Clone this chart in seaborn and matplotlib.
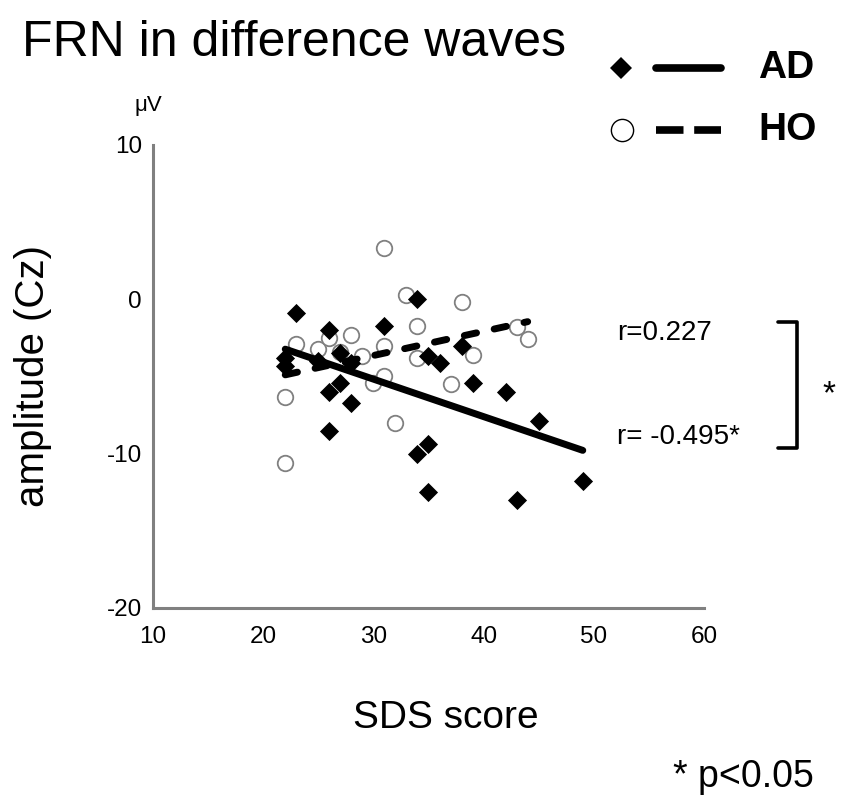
import matplotlib
matplotlib.use('Agg')
import matplotlib.pyplot as plt
from matplotlib.lines import Line2D
import seaborn as sns

# AD group: SDS score vs FRN amplitude (filled diamonds)
ad_sds = [22, 22, 23, 25, 26, 26, 26, 27, 27, 28, 28, 31, 34, 34, 35, 35, 35,
          36, 38, 39, 42, 43, 45, 49]
ad_amp = [-3.8, -4.3, -0.9, -4.0, -2.0, -6.0, -8.5, -3.5, -5.4, -4.1, -6.7,
          -1.7, 0.0, -10.0, -9.4, -12.5, -3.7, -4.1, -3.0, -5.4, -6.0, -13.0,
          -7.9, -11.8]

# HO group (open circles)
ho_sds = [22, 22, 23, 25, 26, 27, 28, 29, 30, 31, 31, 31, 32, 33, 34, 34, 37,
          38, 39, 43, 44]
ho_amp = [-6.3, -10.6, -2.9, -3.2, -2.5, -3.4, -2.3, -3.7, -5.4, 3.35, -3.0,
          -5.0, -8.0, 0.26, -1.7, -3.8, -5.5, -0.2, -3.6, -1.8, -2.6]

x_ticks = [10, 20, 30, 40, 50, 60]
y_ticks = [-20, -10, 0, 10]
group_names = ['AD', 'HO']
r_labels = ['r=0.227', 'r= -0.495*']

GRAY = '#808080'
DASH = (0, (1.8, 2.6))


def fx(px):
    return px / 850


def fy(py):
    return 1 - py / 810


def main():
    sns.set_style('white')
    plt.rcParams['font.family'] = ['Liberation Sans', 'DejaVu Sans']
    plt.rcParams['axes.unicode_minus'] = False
    plt.rcParams['text.color'] = 'black'
    plt.rcParams['axes.labelcolor'] = 'black'

    fig = plt.figure(figsize=(8.5, 8.1), dpi=100)
    ax = fig.add_axes([153 / 850, 202 / 810, 551 / 850, 463 / 810])

    # scatter: HO below, AD on top
    sns.scatterplot(x=ho_sds, y=ho_amp, marker='o', s=125, facecolor='white',
                    edgecolor=GRAY, linewidth=1.3, ax=ax, zorder=2)
    sns.scatterplot(x=ad_sds, y=ad_amp, marker='D', s=95, color='black',
                    edgecolor='black', linewidth=0, ax=ax, zorder=3)

    # regression lines
    sns.regplot(x=ho_sds, y=ho_amp, scatter=False, ci=None, ax=ax,
                line_kws=dict(color='black', lw=5, ls=DASH,
                              dash_capstyle='round', zorder=4))
    sns.regplot(x=ad_sds, y=ad_amp, scatter=False, ci=None, ax=ax,
                line_kws=dict(color='black', lw=5, solid_capstyle='round',
                              zorder=4))

    ax.set_xlim(10, 60)
    ax.set_ylim(-20, 10)
    ax.set_xticks(x_ticks)
    ax.set_yticks(y_ticks)
    for s in ['top', 'right']:
        ax.spines[s].set_visible(False)
    for s in ['left', 'bottom']:
        ax.spines[s].set_color(GRAY)
        ax.spines[s].set_linewidth(2.2)
    ax.tick_params(axis='x', direction='out', length=6, width=2.2,
                   color=GRAY, labelcolor='black', labelsize=17.5, pad=7)
    ax.tick_params(axis='y', direction='inout', length=12, width=2.2,
                   color=GRAY, labelcolor='black', labelsize=17.5, pad=2)
    ax.set_facecolor('white')

    ax.set_xlabel('SDS score', fontsize=28, va='center')
    ax.xaxis.set_label_coords(0.532, -0.238)
    ax.set_ylabel('amplitude (Cz)', fontsize=29, va='center')
    ax.yaxis.set_label_coords(-0.218, 0.5)

    fig.text(fx(22), fy(56), 'FRN in difference waves', fontsize=36,
             va='baseline', ha='left')
    fig.text(fx(148), fy(105), 'μV', fontsize=16, va='center', ha='center')

    # legend drawn by hand: marker, line, label
    fig.add_artist(Line2D([fx(621)], [fy(68)], marker='D', ms=11,
                          color='black', mew=0))
    fig.add_artist(Line2D([fx(656), fx(721)], [fy(68), fy(68)],
                          color='black', lw=5.5))
    fig.add_artist(Line2D([fx(622)], [fy(130)], marker='o', ms=16,
                          mfc='white', mec='black', mew=1))
    fig.add_artist(Line2D([fx(656), fx(721)], [fy(130), fy(130)],
                          color='black', lw=5.5, ls=(0, (3.6, 1.4))))
    for name, py in zip(group_names, [68, 130]):
        fig.text(fx(758), fy(py), name, fontsize=28, fontweight='bold',
                 va='center', ha='left')

    # correlation notes and bracket
    for lab, py in zip(r_labels, [333, 437]):
        fig.text(fx(617), fy(py), lab, fontsize=20, va='center', ha='left')
    fig.add_artist(Line2D([fx(778), fx(797), fx(797), fx(778)],
                          [fy(322), fy(322), fy(448), fy(448)],
                          color='black', lw=2.6))
    fig.text(fx(829), fy(395), '*', fontsize=24, va='center', ha='center')
    fig.text(fx(673), fy(777), '* p<0.05', fontsize=27, va='center',
             ha='left')

    fig.savefig('out.png', dpi=100, facecolor='white')
    plt.close(fig)


if __name__ == '__main__':
    main()
